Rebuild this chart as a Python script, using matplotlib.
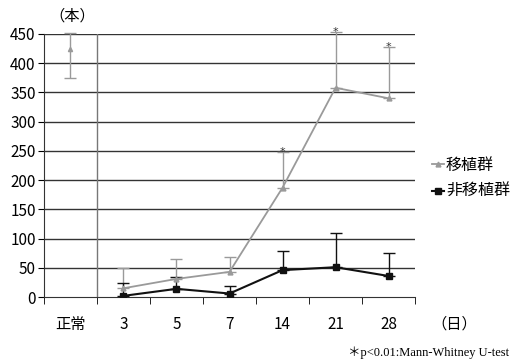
import numpy as np
import matplotlib
matplotlib.use("Agg")
import matplotlib.pyplot as plt

plt.rcParams['font.family'] = ['Noto Sans CJK JP', 'DejaVu Sans']

# データ
categories = ['正常', '3', '5', '7', '14', '21', '28']
normal_mean = 425
normal_low = 375
normal_high = 452
graft_mean = [15, 31, 43, 187, 358, 340]
graft_top = [50, 65, 68, 248, 453, 427]
nongraft_mean = [2, 14, 6, 46, 51, 36]
nongraft_top = [24, 34, 19, 79, 110, 75]
star_idx = [4, 5, 6]

gray = '#9a9a9a'
x = np.arange(len(categories))
xd = x[1:]

fig = plt.figure(figsize=(5.2, 3.64), dpi=100)
ax = fig.add_axes([0.0846, 0.184, 0.7135, 0.7226])

# グリッド
for v in range(50, 451, 50):
    ax.axhline(v, color='#333333', lw=1.0, zorder=1)
ax.plot([0.5, 0.5], [0, 450], color='#777777', lw=1.0, zorder=1)

# 正常
ax.errorbar([0], [normal_mean],
            yerr=[[normal_mean - normal_low], [normal_high - normal_mean]],
            fmt='^', color=gray, ms=3, capsize=4, elinewidth=1, capthick=1,
            zorder=3, clip_on=False)

# 移植群
g_err = np.array(graft_top) - np.array(graft_mean)
ax.errorbar(xd, graft_mean, yerr=[np.zeros_like(g_err), g_err], fmt='none',
            ecolor=gray, capsize=4, elinewidth=1, capthick=1, zorder=3, clip_on=False)
ax.plot(xd, graft_mean, color=gray, lw=1.3, marker='^', ms=3.5, zorder=4)

# 非移植群
n_err = np.array(nongraft_top) - np.array(nongraft_mean)
ax.errorbar(xd, nongraft_mean, yerr=[np.zeros_like(n_err), n_err], fmt='none',
            ecolor='#111111', capsize=4, elinewidth=1, capthick=1, zorder=3)
ax.plot(xd, nongraft_mean, color='#111111', lw=1.5, marker='s', ms=4, zorder=5)

# 有意差の印
for i in star_idx:
    ax.text(x[i], graft_top[i - 1], '*', ha='center', va='center',
            fontsize=8, color='#333333', family='DejaVu Sans')

ax.set_xlim(-0.5, 6.5)
ax.set_ylim(0, 450)
ax.set_yticks(range(0, 451, 50))
ax.set_xticks(x)
ax.set_xticklabels(categories, fontsize=11)
ax.tick_params(axis='x', length=0, pad=14)
ax.set_xticks(np.arange(-0.5, 7, 1), minor=True)
ax.tick_params(axis='x', which='minor', direction='out', length=5)
ax.tick_params(axis='y', direction='out', length=4, labelsize=11, pad=2)
for s in ['top', 'right']:
    ax.spines[s].set_visible(False)
ax.spines['left'].set_color('#333333')
ax.spines['bottom'].set_color('#333333')

fig.text(0.095, 0.955, '（本）', fontsize=11, va='center', ha='left')
fig.text(0.83, 0.11, '（日）', fontsize=11, va='center', ha='left')
fig.text(0.98, 0.03, '＊p<0.01:Mann-Whitney U-test', fontsize=9,
         ha='right', va='center', family=['Liberation Serif', 'Noto Sans CJK JP'])

# 凡例
ax.plot([], [], color=gray, lw=1.3, marker='^', ms=3.5, label='移植群')
ax.plot([], [], color='#111111', lw=1.5, marker='s', ms=4, label='非移植群')
handles, labels = ax.get_legend_handles_labels()
fig.legend(handles[-2:], labels[-2:], loc='center left', bbox_to_anchor=(0.83, 0.51),
           frameon=False, fontsize=11.5, handlelength=0.8, handletextpad=0.1,
           labelspacing=0.6, borderpad=0, borderaxespad=0)

fig.savefig('out.png', dpi=100)
